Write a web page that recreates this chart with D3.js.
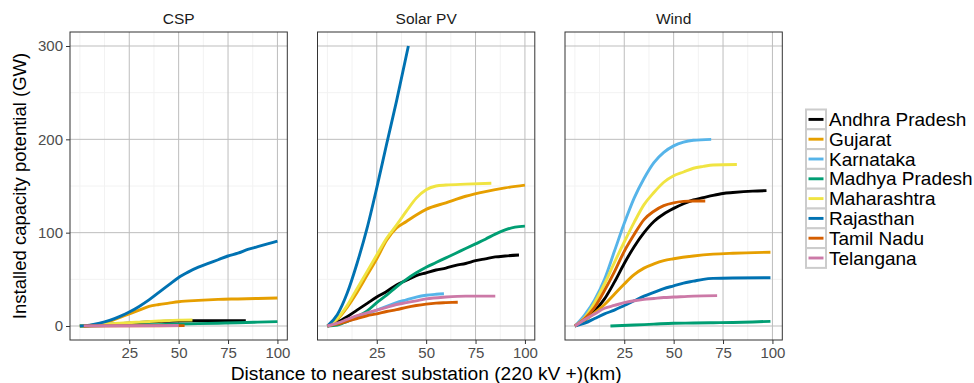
<!DOCTYPE html>
<html>
<head>
<meta charset="utf-8">
<script src="https://cdn.jsdelivr.net/npm/d3@7"></script>
<style>
  body { margin: 0; background: #fff; }
  svg { display: block; font-family: "Liberation Sans", Arial, sans-serif; }
</style>
</head>
<body>
<svg id="chart" width="974" height="383"></svg>
<script>
const states = ['Andhra Pradesh', 'Gujarat', 'Karnataka', 'Madhya Pradesh',
  'Maharashtra', 'Rajasthan', 'Tamil Nadu', 'Telangana']
const stateColors = ['#000000', '#E69F00', '#56B4E9', '#009E73',
  '#F0E442', '#0072B2', '#D55E00', '#CC79A7']
const techs = ['CSP', 'Solar PV', 'Wind']
const xTicks = [25, 50, 75, 100]
const xMinor = [0, 12.5, 37.5, 62.5, 87.5]
const yTicks = [0, 100, 200, 300]
const yMinor = [50, 150, 250]

// [distance km, cumulative GW]
const csp = {
  'Andhra Pradesh': [[0, 0], [10, 1], [20, 2.5], [30, 3.8], [40, 4.8], [50, 5.4], [60, 5.6], [70, 5.7], [84, 5.8]],
  'Gujarat': [[0, 0], [5, 0.5], [10, 2], [15, 5], [20, 9], [25, 13], [30, 17], [35, 21], [40, 23], [45, 24.5], [50, 26], [60, 27.5], [70, 28.5], [80, 29], [90, 29.5], [100, 30]],
  'Madhya Pradesh': [[0, 0], [20, 0.7], [40, 1.5], [50, 2], [60, 2.5], [70, 3], [80, 3.5], [90, 4.1], [100, 4.7]],
  'Maharashtra': [[0, 0], [5, 0.5], [10, 1.5], [20, 3], [30, 4.2], [40, 5.3], [50, 6.3], [57, 6.5]],
  'Rajasthan': [[0, 0], [5, 1], [10, 3], [15, 6], [20, 10], [25, 15], [30, 21], [35, 28], [40, 36], [45, 44], [50, 52], [55, 58], [60, 63], [65, 67], [70, 71], [75, 75], [80, 78], [85, 82], [90, 85], [95, 88], [100, 91]],
  'Tamil Nadu': [[2, 0], [20, 0.2], [40, 0.3], [53, 0.4]],
  'Telangana': [[2, 0.1], [20, 0.3], [40, 0.4], [50, 0.5]]
}
const solarPv = {
  'Andhra Pradesh': [[0, 0], [5, 4], [10, 10], [15, 17], [20, 24], [25, 31], [30, 37], [35, 44], [40, 49], [45, 54], [50, 57], [55, 60], [60, 62], [65, 65], [70, 67], [75, 70], [80, 72], [85, 74], [90, 75], [97, 76]],
  'Gujarat': [[0, 0], [5, 7], [10, 20], [15, 36], [20, 54], [25, 72], [30, 92], [35, 105], [40, 112], [45, 119], [50, 125], [60, 132], [70, 139], [80, 144], [90, 148], [100, 151]],
  'Karnataka': [[0, 0], [5, 2], [10, 5], [15, 9], [20, 13], [25, 17], [30, 21], [35, 25], [40, 28], [45, 31], [50, 33], [55, 34], [59, 34.5]],
  'Madhya Pradesh': [[0, 0], [5, 1], [10, 5], [15, 10], [20, 16], [25, 25], [30, 33], [35, 42], [40, 50], [45, 57], [50, 63], [55, 68], [60, 73], [65, 78], [70, 83], [75, 88], [80, 93], [85, 98.5], [90, 103], [95, 106], [100, 107]],
  'Maharashtra': [[0, 0], [5, 8], [10, 22], [15, 40], [20, 58], [25, 76], [30, 94], [35, 108], [40, 123], [45, 137], [50, 146], [55, 150], [60, 151], [70, 152], [83, 153]],
  'Rajasthan': [[0, 0], [5, 12], [10, 35], [15, 67], [20, 104], [25, 148], [30, 195], [35, 241], [41, 300]],
  'Tamil Nadu': [[0, 0], [5, 2], [10, 5], [15, 8], [20, 11], [25, 13], [30, 15.5], [35, 17.5], [40, 20], [45, 22], [50, 23.5], [55, 24.5], [60, 25], [66, 25.5]],
  'Telangana': [[0, 0], [5, 3], [10, 7], [15, 11], [20, 14], [25, 17], [30, 20], [35, 23], [40, 25], [45, 27], [50, 29], [60, 31], [70, 32], [85, 32]]
}
const wind = {
  'Andhra Pradesh': [[0, 0], [5, 6], [10, 16], [15, 29], [20, 47], [25, 67], [30, 85], [35, 100], [40, 112], [45, 120], [50, 126], [55, 131], [60, 135], [65, 137.5], [70, 140], [75, 142], [80, 143], [90, 144.5], [97, 145]],
  'Gujarat': [[0, 0], [5, 6], [10, 14], [15, 23], [20, 34], [25, 45], [30, 55], [35, 62], [40, 66.5], [45, 70], [50, 72], [60, 75], [70, 77], [80, 78], [99, 79]],
  'Karnataka': [[0, 0], [5, 12], [10, 28], [15, 50], [20, 80], [25, 110], [30, 137], [35, 158], [40, 175], [45, 186], [50, 193], [55, 197], [60, 199], [69, 200]],
  'Madhya Pradesh': [[18, 0], [30, 1], [40, 2], [50, 3], [60, 3.2], [70, 3.5], [80, 3.8], [90, 4.3], [99, 5]],
  'Maharashtra': [[0, 0], [5, 9], [10, 25], [15, 45], [20, 68], [25, 90], [30, 111], [35, 130], [40, 143], [45, 154], [50, 161], [55, 165], [60, 169], [65, 171], [70, 172.5], [82, 173]],
  'Rajasthan': [[0, 0], [5, 3], [10, 8], [15, 13], [20, 17], [25, 22], [30, 27], [35, 32], [40, 36], [45, 40], [50, 43], [55, 46], [60, 48], [65, 50], [70, 51], [80, 51.5], [99, 51.7]],
  'Tamil Nadu': [[0, 0], [5, 8], [10, 20], [15, 38], [20, 58], [25, 80], [30, 98], [35, 114], [40, 123], [45, 129], [50, 132], [55, 133.5], [60, 134], [66, 134]],
  'Telangana': [[0, 0], [5, 7], [10, 13], [15, 19], [20, 22], [25, 25], [30, 27], [35, 28.5], [40, 29.5], [45, 30.5], [50, 31], [60, 32], [72, 32.5]]
}
const techData = [csp, solarPv, wind]

const panelLeft = 70
const panelTop = 32
const panelW = 217.3
const panelH = 308
const panelGap = 30.2

const color = d3.scaleOrdinal(states, stateColors)
const x = d3.scaleLinear().domain([-5, 105]).range([0, panelW])
const y = d3.scaleLinear().domain([-15, 315]).range([panelH, 0])
const line = d3.line()
  .x(d => x(d[0]))
  .y(d => y(d[1]))
  .curve(d3.curveMonotoneX)

const svg = d3.select('#chart')

techs.forEach((tech, i) => {
  const g = svg.append('g')
    .attr('transform', `translate(${panelLeft + i * (panelW + panelGap)},${panelTop})`)

  // minor grid
  g.selectAll('.xminor').data(xMinor).enter().append('line')
    .attr('x1', d => x(d)).attr('x2', d => x(d))
    .attr('y1', 0).attr('y2', panelH)
    .attr('stroke', '#f2f2f2').attr('stroke-width', 1)
  g.selectAll('.yminor').data(yMinor).enter().append('line')
    .attr('x1', 0).attr('x2', panelW)
    .attr('y1', d => y(d)).attr('y2', d => y(d))
    .attr('stroke', '#f2f2f2').attr('stroke-width', 1)

  // major grid
  g.selectAll('.xmajor').data(xTicks).enter().append('line')
    .attr('x1', d => x(d)).attr('x2', d => x(d))
    .attr('y1', 0).attr('y2', panelH)
    .attr('stroke', '#bdbdbd').attr('stroke-width', 1)
  g.selectAll('.ymajor').data(yTicks).enter().append('line')
    .attr('x1', 0).attr('x2', panelW)
    .attr('y1', d => y(d)).attr('y2', d => y(d))
    .attr('stroke', '#bdbdbd').attr('stroke-width', 1)

  g.append('clipPath').attr('id', `clip${i}`)
    .append('rect').attr('width', panelW).attr('height', panelH)

  const series = states.filter(s => techData[i][s])
  g.append('g').attr('clip-path', `url(#clip${i})`)
    .selectAll('path')
    .data(series)
    .enter()
    .append('path')
    .attr('d', s => line(techData[i][s]))
    .attr('fill', 'none')
    .attr('stroke', s => color(s))
    .attr('stroke-width', 2.9)

  g.append('rect')
    .attr('width', panelW).attr('height', panelH)
    .attr('fill', 'none').attr('stroke', '#333').attr('stroke-width', 1)

  // x axis
  const xAxis = g.append('g')
    .attr('transform', `translate(0,${panelH})`)
    .call(d3.axisBottom(x).tickValues(xTicks).tickSize(4).tickPadding(3))
  xAxis.select('.domain').remove()
  xAxis.selectAll('line').attr('stroke', '#333')
  xAxis.selectAll('text').attr('fill', '#4d4d4d')
    .style('font-size', '15px').style('font-family', '"Liberation Sans", Arial, sans-serif')

  if (i === 0) {
    const yAxis = g.append('g')
      .call(d3.axisLeft(y).tickValues(yTicks).tickSize(4).tickPadding(3))
    yAxis.select('.domain').remove()
    yAxis.selectAll('line').attr('stroke', '#333')
    yAxis.selectAll('text').attr('fill', '#4d4d4d')
      .style('font-size', '15px').style('font-family', '"Liberation Sans", Arial, sans-serif')
  }

  g.append('text')
    .attr('x', panelW / 2).attr('y', -8)
    .attr('text-anchor', 'middle')
    .attr('fill', '#1a1a1a')
    .style('font-size', '15.5px')
    .text(tech)
})

const plotRight = panelLeft + 3 * panelW + 2 * panelGap

svg.append('text')
  .attr('x', (panelLeft + plotRight) / 2).attr('y', 380)
  .attr('text-anchor', 'middle')
  .style('font-size', '19.2px')
  .text('Distance to nearest substation (220 kV +)(km)')

svg.append('text')
  .attr('transform', `translate(26,${panelTop + panelH / 2}) rotate(-90)`)
  .attr('text-anchor', 'middle')
  .style('font-size', '18.5px')
  .text('Installed capacity potential (GW)')

// legend
const legendTop = 109.5
const rowH = 19.8
const legend = svg.append('g').attr('transform', `translate(806,${legendTop})`)
const item = legend.selectAll('g').data(states).enter().append('g')
  .attr('transform', (d, i) => `translate(0,${i * rowH})`)
item.append('rect')
  .attr('width', 20).attr('height', rowH)
  .attr('fill', '#fff').attr('stroke', '#cccccc').attr('stroke-width', 2)
item.append('line')
  .attr('x1', 2.5).attr('x2', 17.5)
  .attr('y1', rowH / 2).attr('y2', rowH / 2)
  .attr('stroke', d => color(d)).attr('stroke-width', 2.9)
item.append('text')
  .attr('x', 23).attr('y', rowH / 2)
  .attr('dy', '0.35em')
  .style('font-size', '19px')
  .text(d => d)
</script>
</body>
</html>
